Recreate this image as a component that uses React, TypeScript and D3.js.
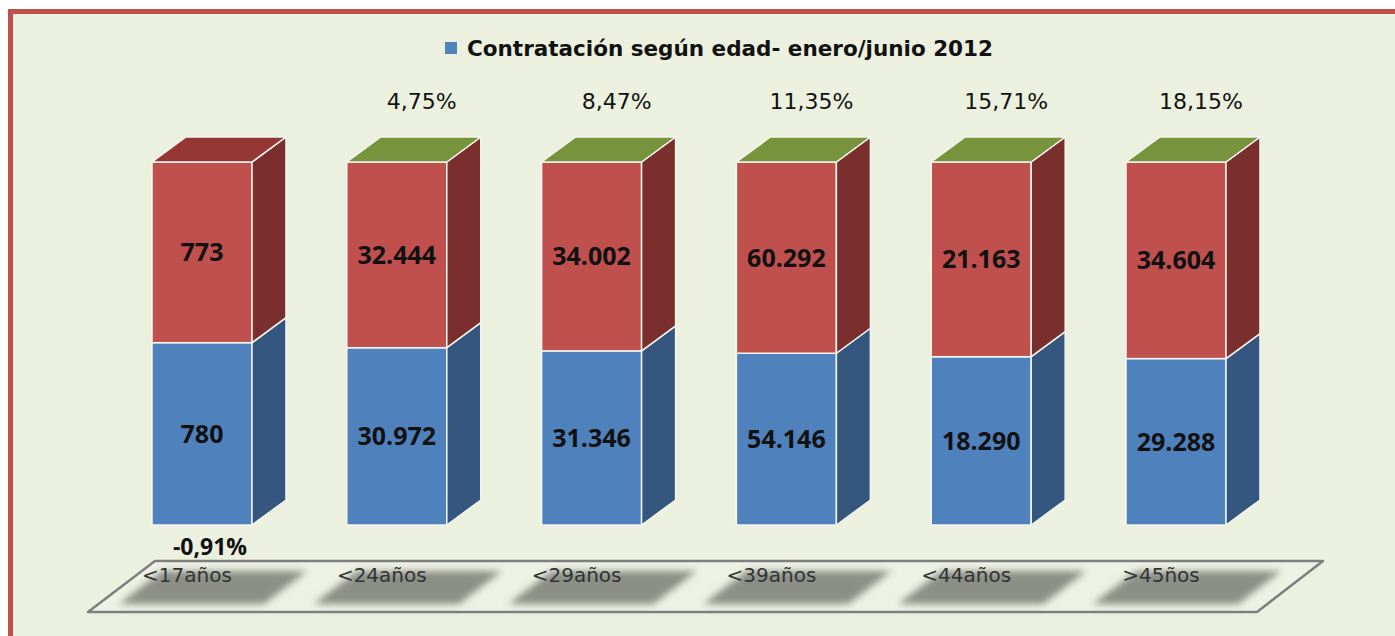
import React, { useEffect, useRef } from 'react';
import * as d3 from 'd3';

// chart data
const categories = ['<17años', '<24años', '<29años', '<39años', '<44años', '>45ños'];
const blueValues = [780, 30972, 31346, 54146, 18290, 29288];
const redValues = [773, 32444, 34002, 60292, 21163, 34604];
const variation = [-0.91, 4.75, 8.47, 11.35, 15.71, 18.15];
const legendLabel = 'Contratación según edad- enero/junio 2012';

const es = d3.formatLocale({ decimal: ',', thousands: '.', grouping: [3], currency: ['', ' €'], minus: '-' });
const fmtInt = es.format(',d');
const fmtPct = es.format(',.2f');

export default function App() {
  const svgRef = useRef<SVGSVGElement>(null);

  useEffect(() => {
    if (!svgRef.current) return;
    d3.select(svgRef.current).selectAll('*').remove();

    const width = 1395;
    const height = 636;
    const depthX = 34;
    const depthY = 25;

    const svg = d3.select(svgRef.current)
      .attr('width', width)
      .attr('height', height);

    const defs = svg.append('defs');
    defs.append('filter')
      .attr('id', 'soft')
      .attr('x', '-20%').attr('y', '-40%').attr('width', '140%').attr('height', '180%')
      .append('feGaussianBlur')
      .attr('stdDeviation', 3.5);

    // outer frame
    svg.append('rect')
      .attr('x', 10.5).attr('y', 11.5)
      .attr('width', width + 20).attr('height', height + 20)
      .attr('fill', '#ebf1de')
      .attr('stroke', '#c0504d')
      .attr('stroke-width', 5);

    const x = d3.scaleBand<string>()
      .domain(categories)
      .range([104.6, 1273.4])
      .paddingInner(0.4867)
      .paddingOuter(0.24335);
    const bw = x.bandwidth();

    const y = d3.scaleLinear().domain([0, 1]).range([525, 162]);

    // floor
    const floorTop = 561;
    const floorBottom = 612;
    svg.append('path')
      .attr('d', `M155,${floorTop}L1323,${floorTop}L1257,${floorBottom}L88,${floorBottom}Z`)
      .attr('fill', '#edf2e4')
      .attr('stroke', '#7f7f7f')
      .attr('stroke-width', 2.5)
      .attr('stroke-linejoin', 'round');

    // bar shadows on the floor
    const shTop = 571;
    const shBottom = 604;
    const skew = 43;
    svg.append('g')
      .attr('filter', 'url(#soft)')
      .selectAll('path')
      .data(categories)
      .join('path')
      .attr('d', c => {
        const x0 = (x(c) as number) + 10;
        const x1 = (x(c) as number) + 155;
        return `M${x0},${shTop}L${x1},${shTop}L${x1 - skew},${shBottom}L${x0 - skew},${shBottom}Z`;
      })
      .attr('fill', '#8b8f85');

    // category labels
    svg.append('g')
      .selectAll('text')
      .data(categories)
      .join('text')
      .attr('x', c => (x(c) as number) + bw / 2 - 15)
      .attr('y', 582)
      .attr('text-anchor', 'middle')
      .style('font-family', '"DejaVu Sans", sans-serif')
      .style('font-size', '20px')
      .style('fill', '#333')
      .text(c => c);

    const rows = categories.map((c, i) => ({
      cat: c,
      blue: blueValues[i],
      red: redValues[i],
      pct: variation[i],
      share: blueValues[i] / (blueValues[i] + redValues[i]),
    }));

    const edge = '#f4f6f0';

    const bars = svg.append('g')
      .selectAll('g')
      .data(rows)
      .join('g');

    const segments = (d: typeof rows[number]) => [
      { lo: 0, hi: d.share, front: '#4f81bd', side: '#34567f', value: d.blue },
      { lo: d.share, hi: 1, front: '#c0504d', side: '#7b2f2d', value: d.red },
    ];

    bars.each(function (d) {
      const g = d3.select(this);
      const bx = x(d.cat) as number;
      segments(d).forEach(s => {
        const y0 = y(s.lo);
        const y1 = y(s.hi);
        g.append('rect')
          .attr('x', bx).attr('y', y1)
          .attr('width', bw).attr('height', y0 - y1)
          .attr('fill', s.front)
          .attr('stroke', edge).attr('stroke-width', 1.5);
        g.append('path')
          .attr('d', `M${bx + bw},${y0}L${bx + bw + depthX},${y0 - depthY}L${bx + bw + depthX},${y1 - depthY}L${bx + bw},${y1}Z`)
          .attr('fill', s.side)
          .attr('stroke', edge).attr('stroke-width', 1.5)
          .attr('stroke-linejoin', 'round');
        g.append('text')
          .attr('x', bx + bw / 2)
          .attr('y', (y0 + y1) / 2)
          .attr('dy', '0.36em')
          .attr('text-anchor', 'middle')
          .style('font-family', '"Open Sans", sans-serif')
          .style('font-weight', 700)
          .style('font-size', '25px')
          .style('fill', '#111')
          .text(fmtInt(s.value));
      });
      const yt = y(1);
      g.append('path')
        .attr('d', `M${bx},${yt}L${bx + depthX},${yt - depthY}L${bx + bw + depthX},${yt - depthY}L${bx + bw},${yt}Z`)
        .attr('fill', d.pct >= 0 ? '#77933c' : '#953735')
        .attr('stroke', edge).attr('stroke-width', 1.5)
        .attr('stroke-linejoin', 'round');
    });

    // variation labels: above for growth, below for decline
    svg.append('g')
      .selectAll('text')
      .data(rows)
      .join('text')
      .attr('x', d => (x(d.cat) as number) + bw / 2 + (d.pct >= 0 ? 25 : 8))
      .attr('y', d => (d.pct >= 0 ? 109 : 555))
      .attr('text-anchor', 'middle')
      .style('font-family', d => (d.pct >= 0 ? '"DejaVu Sans", sans-serif' : '"Open Sans", sans-serif'))
      .style('font-weight', d => (d.pct >= 0 ? 400 : 700))
      .style('font-size', d => (d.pct >= 0 ? '22px' : '23px'))
      .style('fill', '#111')
      .text(d => `${fmtPct(d.pct)}%`);

    // legend
    svg.append('rect')
      .attr('x', 445).attr('y', 42)
      .attr('width', 12).attr('height', 12)
      .attr('fill', '#4f81bd');
    svg.append('text')
      .attr('x', 467).attr('y', 56)
      .style('font-family', '"DejaVu Sans", sans-serif')
      .style('font-weight', 700)
      .style('font-size', '21.5px')
      .style('fill', '#111')
      .text(legendLabel);
  }, []);

  return (
    <div style={{ position: 'absolute', left: 0, top: 0, background: '#fff' }}>
      <svg ref={svgRef} style={{ display: 'block' }}></svg>
    </div>
  );
}
